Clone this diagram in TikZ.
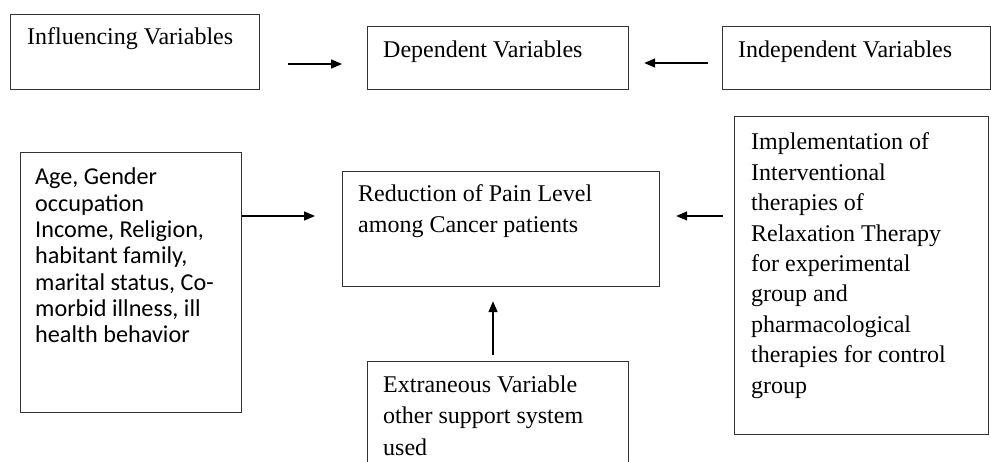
\documentclass[tikz,border=0pt]{standalone}
\usepackage{fontspec}
\setmainfont{Liberation Serif}
\newfontfamily\calfont{Carlito}
\usetikzlibrary{arrows.meta,calc}
\begin{document}
\begin{tikzpicture}[x=1pt,y=-1pt,
  boxnode/.style={draw=black!80,line width=1.2pt,inner sep=0pt,anchor=north west},
  txt/.style={inner sep=0pt,anchor=base west,font=\fontsize{24}{31}\selectfont},
  caltxt/.style={inner sep=0pt,anchor=base west,font=\calfont\fontsize{24.2}{26.3}\selectfont},
  arr/.style={line width=1.4pt,-{Triangle[length=11pt,width=9pt]}}]
\useasboundingbox (0,0) rectangle (991,462);
\clip (0,0) rectangle (991,462);
% boxes
\node[boxnode,minimum width=249pt,minimum height=75pt] (inf) at (10,14) {};
\node[boxnode,minimum width=261pt,minimum height=63pt] (dep) at (367,26) {};
\node[boxnode,minimum width=268pt,minimum height=63pt] (ind) at (722,26) {};
\node[boxnode,minimum width=221pt,minimum height=260pt] (age) at (20,152) {};
\node[boxnode,minimum width=317pt,minimum height=115pt] (red) at (342,171) {};
\node[boxnode,minimum width=261pt,minimum height=130pt] (ext) at (367,361) {};
\node[boxnode,minimum width=254pt,minimum height=318pt] (imp) at (734,116) {};
% texts
\node[txt] (tinf) at (27,45) {Influencing Variables};
\node[txt] (tdep) at (383,58) {Dependent Variables};
\node[txt] (tind) at (738,58) {Independent Variables};
\node[caltxt] (tage) at (35,185) {\parbox[t]{205pt}{Age, Gender\\occupation\\Income, Religion,\\habitant family,\\marital status, Co-\\morbid illness, ill\\health behavior}};
\node[txt] (tred) at (358,202) {\parbox[t]{300pt}{Reduction of Pain Level\\among Cancer patients}};
\node[txt,font=\fontsize{24}{31.5}\selectfont] (text) at (383,392) {\parbox[t]{240pt}{Extraneous Variable\\other support system\\used}};
\node[txt,font=\fontsize{24}{30.4}\selectfont] (timp) at (751,150) {\parbox[t]{235pt}{Implementation of\\Interventional\\therapies of\\Relaxation Therapy\\for experimental\\group and\\pharmacological\\therapies for control\\group}};
% connectors
\draw[arr,shorten <=28pt,shorten >=25pt] (inf.east |- 0,64) -- (dep.west |- 0,64);
\draw[arr,shorten <=14pt,shorten >=15pt] (ind.west |- 0,63) -- (dep.east |- 0,63);
\draw[arr,shorten >=27pt] (age.east |- 0,216) -- (red.west |- 0,216);
\draw[arr,shorten <=11pt,shorten >=16pt] (imp.west |- 0,216) -- (red.east |- 0,216);
\draw[arr,shorten <=6pt,shorten >=14pt] (ext.north -| 493,0) -- (red.south -| 493,0);
\end{tikzpicture}
\end{document}
